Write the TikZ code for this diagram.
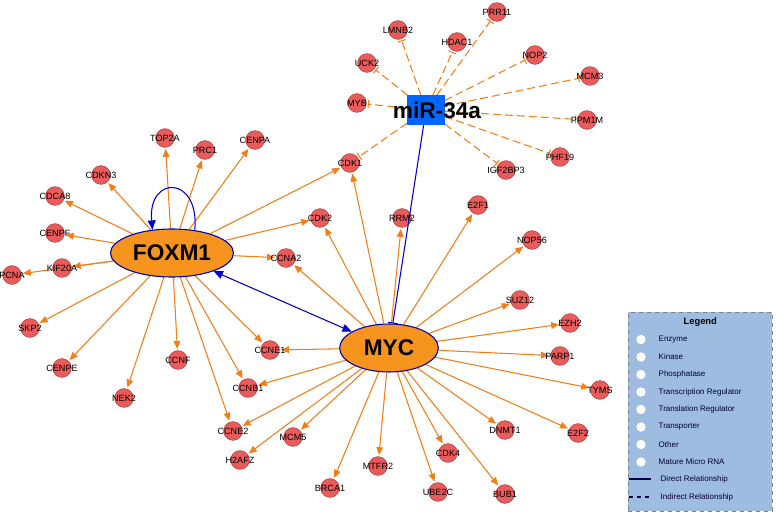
\documentclass[tikz,border=0pt]{standalone}
\usepackage{fontspec}
\setmainfont{Liberation Sans}
\usetikzlibrary{positioning, shapes.geometric, arrows.meta, backgrounds}
\definecolor{genered}{HTML}{EC5B5B}
\definecolor{edgeor}{HTML}{F07F1A}
\definecolor{hubor}{HTML}{F7941D}
\definecolor{legbg}{HTML}{9DBCE0}
\begin{document}
\begin{tikzpicture}[
    x=0.75pt, y=-0.75pt,
    gene/.style={circle, fill=genered, draw=genered!70!black, minimum size=14pt, inner sep=0pt},
    genelabel/.style={font=\fontsize{6.8}{7}\selectfont},
    hub/.style={ellipse, fill=hubor, draw=blue!70!black, thick, minimum width=74pt, minimum height=36pt, font=\fontsize{17}{18}\bfseries\selectfont},
    act/.style={edgeor, thick, -{Triangle[width=5pt,length=6pt]}, shorten >=1pt},
    inh/.style={edgeor, thick, dashed, dash pattern=on 6pt off 3pt, -{Bar[width=6pt]}, shorten >=1pt},
    direct/.style={blue!80!black, thick}
]
\useasboundingbox (0,0) rectangle (776,517);

% Hubs
\node[hub] (FOXM1) at (172,253) {FOXM1};
\node[hub] (MYC) at (389,348) {MYC};
\node[fill=blue!60!cyan, minimum width=28pt, minimum height=22pt] (mirbox) at (426,110) {};
\node[font=\fontsize{17}{18}\bfseries\selectfont] (mir) at (437,110) {miR-34a};

% Genes
\foreach \n/\x/\y in {LMNB2/398/30, PRR11/497/12, HDAC1/457/42, UCK2/367/63, NOP2/535/55,
    MCM3/590/76, MYB/357/103, PPM1M/587/120, IGF2BP3/506/170, PHF19/560/157, CDK1/350/163,
    CDKN3/101/175, TOP2A/165/138, CDCA8/55/196, PRC1/205/150, CENPA/255/140, CENPF/55/233,
    PCNA/12/275, KIF20A/62/268, SKP2/30/328, CENPE/62/368, CCNF/178/360, NEK2/124/398,
    CCNB1/248/388, CCNE2/233/431, CCNE1/270/350, CCNA2/286/258, CDK2/320/218,
    RRM2/402/218, E2F1/478/205, NOP56/532/240, SUZ12/520/300, EZH2/570/323, PARP1/560/356,
    TYMS/600/390, E2F2/578/433, DNMT1/505/430, BUB1/505/494, CDK4/448/453, UBE2C/438/492,
    MTFR2/378/466, BRCA1/330/488, MCM5/293/437, H2AFZ/240/460}
  \node[gene, label={[genelabel]center:\n}] (\n) at (\x,\y) {};

\begin{scope}[on background layer]
% miR-34a targets
\foreach \n in {LMNB2, PRR11, HDAC1, UCK2, NOP2, MCM3, MYB, PPM1M, IGF2BP3, PHF19, CDK1}
  \draw[inh] (mirbox) -- (\n);
% FOXM1 targets
\foreach \n in {CDKN3, TOP2A, CDCA8, PRC1, CENPA, CENPF, PCNA, KIF20A, SKP2, CENPE, CCNF,
    NEK2, CCNB1, CCNE2, CCNE1, CCNA2, CDK2, CDK1}
  \draw[act] (FOXM1) -- (\n);
% MYC targets
\foreach \n in {RRM2, E2F1, NOP56, SUZ12, EZH2, PARP1, TYMS, E2F2, DNMT1, BUB1, CDK4, UBE2C,
    MTFR2, BRCA1, MCM5, H2AFZ, CCNB1, CCNE2, CCNE1, CCNA2, CDK2, CDK1}
  \draw[act] (MYC) -- (\n);
\end{scope}

% Direct relationships
\draw[direct, -{Bar[width=7pt]}] (mirbox) -- (MYC);
\draw[direct, {Triangle[width=6pt,length=7pt]}-{Triangle[width=6pt,length=7pt]}] (FOXM1) -- (MYC);
\draw[direct, -{Triangle[width=6pt,length=7pt]}] (FOXM1.45) .. controls +(5,-55) and +(-5,-55) .. (FOXM1.130);

% Legend
\node[draw=gray, dashed, fill=legbg, minimum width=108pt, minimum height=149pt, anchor=north west] (legend) at (628,312) {};
\node[font=\fontsize{7}{8}\bfseries\selectfont, below=1pt of legend.north] (legtitle) {Legend};
\foreach \t [count=\i] in {Enzyme, Kinase, Phosphatase, Transcription Regulator, Translation Regulator,
    Transporter, Other, Mature Micro RNA}
  \node[font=\fontsize{6}{7}\selectfont, anchor=west, text=blue!20!black] (leg\i) at (654,322+\i*17.5) {\t};
\foreach \i in {1,...,8}
  \node[circle, fill=white, minimum size=7pt, inner sep=0pt] (legicon\i) at (641,322+\i*17.5) {};
\node[font=\fontsize{6}{7}\selectfont, anchor=west, text=blue!20!black] (legd) at (656,479) {Direct Relationship};
\node[font=\fontsize{6}{7}\selectfont, anchor=west, text=blue!20!black] (legi) at (656,497) {Indirect Relationship};
\draw[blue!30!black, thick] ([xshift=-20pt]legd.west) -- ([xshift=-4pt]legd.west);
\draw[blue!30!black, thick, dashed] ([xshift=-20pt]legi.west) -- ([xshift=-4pt]legi.west);
\end{tikzpicture}
\end{document}
